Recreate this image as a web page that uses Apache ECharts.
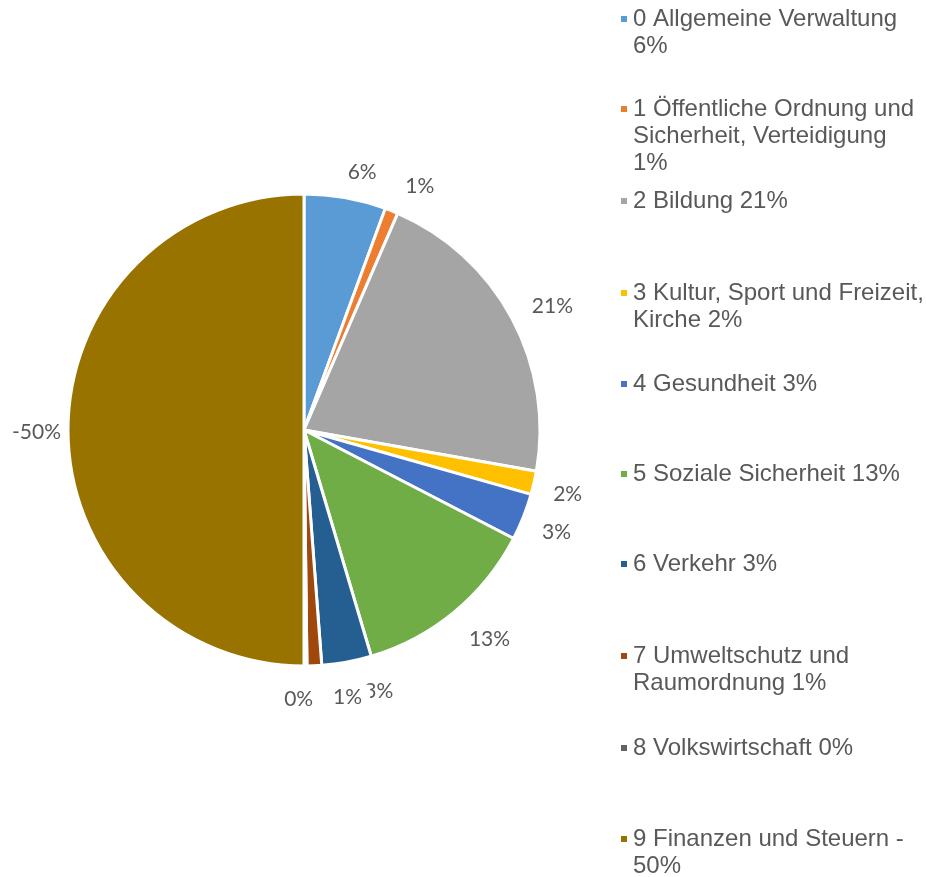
<!DOCTYPE html>
<html>
<head>
<meta charset="utf-8">
<script src="https://cdn.jsdelivr.net/npm/echarts@6/dist/echarts.min.js"></script>
<style>
  html, body { margin: 0; padding: 0; background: #ffffff; }
  #chart { width: 926px; height: 877px; }
</style>
</head>
<body>
<div id="chart"></div>
<script>
// ---- data ----
const categories = [
  '0 Allgemeine Verwaltung',
  '1 Öffentliche Ordnung und Sicherheit, Verteidigung',
  '2 Bildung',
  '3 Kultur, Sport und Freizeit, Kirche',
  '4 Gesundheit',
  '5 Soziale Sicherheit',
  '6 Verkehr',
  '7 Umweltschutz und Raumordnung',
  '8 Volkswirtschaft',
  '9 Finanzen und Steuern'
];
// shares in percent (sign kept as in the source)
const values = [5.6, 0.9, 21.3, 1.6, 3.2, 12.8, 3.4, 1.0, 0.2, -50.0];
const legendLabels = [
  '0 Allgemeine Verwaltung\n6%',
  '1 Öffentliche Ordnung und\nSicherheit, Verteidigung\n1%',
  '2 Bildung 21%',
  '3 Kultur, Sport und Freizeit,\nKirche 2%',
  '4 Gesundheit 3%',
  '5 Soziale Sicherheit 13%',
  '6 Verkehr 3%',
  '7 Umweltschutz und\nRaumordnung 1%',
  '8 Volkswirtschaft 0%',
  '9 Finanzen und Steuern -\n50%'
];
const colors = ['#5B9BD5', '#ED7D31', '#A5A5A5', '#FFC000', '#4472C4',
                '#70AD47', '#255E91', '#9E480E', '#636363', '#997300'];

// ---- layout ----
const CX = 304, CY = 430, R = 236;
const legendMarkerY = [18, 108, 200, 292, 383, 473, 563, 655, 747, 838];
const LH = 27;
const labelNudge = {
  0: [12, 2], 1: [17, 3], 2: [7, 6], 3: [3, 4], 4: [3, 3],
  5: [12, -1], 6: [27, 2], 7: [32, 3], 8: [-7, 8], 9: [8, 2]
};

const total = values.reduce((s, v) => s + Math.abs(v), 0);
const midAngles = [];
let cum = 0;
values.forEach(v => {
  const a = Math.abs(v);
  midAngles.push((cum + a / 2) / total * Math.PI * 2);
  cum += a;
});

const legends = categories.map((name, i) => {
  const n = legendLabels[i].split('\n').length;
  const blockLines = 2 * n - 1;
  return {
    data: [name],
    orient: 'vertical',
    left: 619,
    top: legendMarkerY[i] - blockLines * LH / 2 + 1,
    padding: 0,
    itemGap: 0,
    itemWidth: 8,
    itemHeight: 8,
    icon: 'rect',
    selectedMode: false,
    textStyle: {
      fontFamily: "'Liberation Sans', Arial, sans-serif",
      fontSize: 24,
      color: '#595959',
      lineHeight: LH
    },
    formatter: function (nm) {
      const idx = categories.indexOf(nm);
      const txt = legendLabels[idx];
      const k = txt.split('\n').length;
      return '\n'.repeat(k - 1) + txt;
    }
  };
});

const chart = echarts.init(document.getElementById('chart'), null, {renderer: 'canvas'});
chart.setOption({
  backgroundColor: '#ffffff',
  animation: false,
  color: colors,
  legend: legends,
  series: [{
    type: 'pie',
    center: [CX, CY],
    radius: R,
    startAngle: 90,
    clockwise: true,
    avoidLabelOverlap: false,
    itemStyle: { borderColor: '#ffffff', borderWidth: 3 },
    label: {
      show: true,
      position: 'outside',
      fontFamily: "Lato, Carlito, sans-serif",
      fontSize: 21,
      color: '#595959',
      formatter: p => Math.round(values[p.dataIndex]) + '%'
    },
    labelLine: { show: false },
    labelLayout: function (p) {
      const i = p.dataIndex;
      const m = midAngles[i];
      const ux = Math.sin(m), uy = -Math.cos(m);
      const w = p.labelRect.width, h = p.labelRect.height;
      const d = R + 15 + Math.abs(ux) * w / 2 + Math.abs(uy) * h / 2;
      const nd = labelNudge[i] || [0, 0];
      return {
        x: CX + ux * d + nd[0],
        y: CY + uy * d + nd[1],
        align: 'center',
        verticalAlign: 'middle'
      };
    },
    emphasis: { disabled: true },
    data: categories.map((name, i) => {
      const item = { name: name, value: Math.abs(values[i]) };
      if (i === 7) {
        item.label = { backgroundColor: '#ffffff', padding: [2, 8] };
      }
      return item;
    })
  }]
});
</script>
</body>
</html>
